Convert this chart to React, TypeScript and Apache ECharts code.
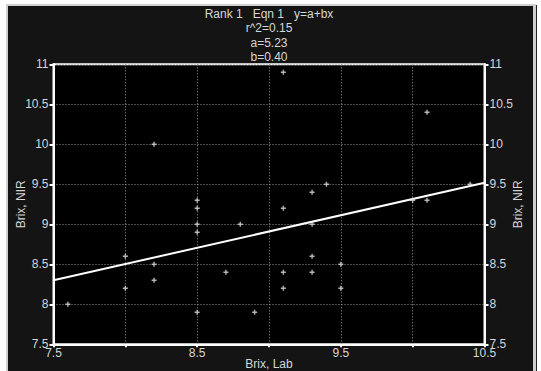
import React, { useEffect, useRef } from "react";
import * as echarts from "echarts";

const titleLines = ["Rank 1   Eqn 1   y=a+bx", "r^2=0.15", "a=5.23", "b=0.40"];
const xAxisName = "Brix, Lab";
const yAxisName = "Brix, NIR";
const xTickLabels = ["7.5", "8.5", "9.5", "10.5"];
const points: [number, number][] = [
  [9.1, 10.9], [10.1, 10.4], [8.2, 10.0], [9.4, 9.5], [10.4, 9.5],
  [9.3, 9.4], [8.5, 9.3], [8.5, 9.2], [9.1, 9.2], [10.0, 9.3],
  [10.1, 9.3], [8.5, 9.0], [8.8, 9.0], [9.3, 9.0], [8.5, 8.9],
  [8.0, 8.6], [9.3, 8.6], [8.2, 8.5], [9.5, 8.5], [8.7, 8.4],
  [9.1, 8.4], [9.3, 8.4], [8.2, 8.3], [8.0, 8.2], [9.1, 8.2],
  [9.5, 8.2], [7.6, 8.0], [8.5, 7.9], [8.9, 7.9],
];
const fitLine: [number, number][] = [[7.5, 8.3], [10.5, 9.52]];

const FONT = "Liberation Sans, Arial, sans-serif";
const TXT = "#d6d6d6";

export default function App() {
  const ref = useRef<HTMLDivElement>(null);
  useEffect(() => {
    document.body.style.margin = "0";
    const chart = echarts.init(ref.current!, null, { renderer: "svg" });
    const yAxisCommon = {
      type: "value" as const,
      min: 7.5,
      max: 11,
      interval: 0.5,
      name: yAxisName,
      nameLocation: "middle" as const,
      nameGap: 27,
      nameMoveOverlap: false,
      nameTextStyle: { color: TXT, fontSize: 12, fontFamily: FONT },
      axisLine: { show: true, lineStyle: { color: "#fff", width: 2 } },
      axisTick: { show: true, length: 4, lineStyle: { color: "#fff", width: 2 } },
      axisLabel: { color: TXT, fontSize: 12, fontFamily: FONT, margin: 5 },
    };
    chart.setOption({
      animation: false,
      backgroundColor: "#fff",
      graphic: [
        { type: "rect", z: -10, shape: { x: 6, y: 4, width: 530, height: 367 }, style: { fill: "#cfcfcf" } },
        { type: "rect", z: -9, shape: { x: 8, y: 6, width: 525, height: 365 }, style: { fill: "#141414" } },
        { type: "line", z: -8, shape: { x1: 536.5, y1: 5, x2: 536.5, y2: 371 }, style: { stroke: "#222", lineWidth: 1 } },
        {
          type: "text",
          z: 10,
          x: 269,
          y: 7,
          style: {
            text: titleLines.join("\n"),
            align: "center",
            verticalAlign: "top",
            fill: TXT,
            fontSize: 12,
            fontFamily: FONT,
            lineHeight: 14.3,
          },
        },
      ],
      grid: {
        left: 53.5,
        right: 56.5,
        top: 64.3,
        bottom: 26.7,
        outerBoundsMode: "none",
        containLabel: false,
        show: true,
        backgroundColor: "#000",
        borderColor: "#fff",
        borderWidth: 2,
      },
      xAxis: {
        type: "value",
        min: 7.5,
        max: 10.5,
        interval: 0.5,
        name: xAxisName,
        nameLocation: "middle",
        nameGap: 14,
        nameMoveOverlap: false,
        nameTextStyle: { color: TXT, fontSize: 12, fontFamily: FONT },
        axisLine: { show: true, lineStyle: { color: "#fff", width: 2 } },
        axisTick: { show: true, length: 3, lineStyle: { color: "#fff", width: 2 } },
        axisLabel: {
          color: TXT,
          fontSize: 12,
          fontFamily: FONT,
          margin: 3,
          showMinLabel: true,
          showMaxLabel: true,
          formatter: (v: number) => (xTickLabels.includes(String(v)) ? String(v) : ""),
        },
        splitLine: { show: true, lineStyle: { color: "#999", type: [1, 2], width: 1 } },
      },
      yAxis: [
        {
          ...yAxisCommon,
          position: "left",
          splitLine: { show: true, lineStyle: { color: "#999", type: [1, 2], width: 1 } },
        },
        {
          ...yAxisCommon,
          position: "right",
          splitLine: { show: false },
        },
      ],
      series: [
        {
          type: "line",
          data: fitLine,
          symbol: "none",
          lineStyle: { color: "#fff", width: 2 },
          z: 3,
        },
        {
          type: "scatter",
          data: points,
          symbol: "path://M1.8,0H3.2V1.8H5V3.2H3.2V5H1.8V3.2H0V1.8H1.8Z",
          symbolSize: 5,
          itemStyle: { color: "#e2e2e2" },
          z: 4,
        },
      ],
    });
    return () => chart.dispose();
  }, []);
  return <div ref={ref} style={{ width: 541, height: 371 }} />;
}
